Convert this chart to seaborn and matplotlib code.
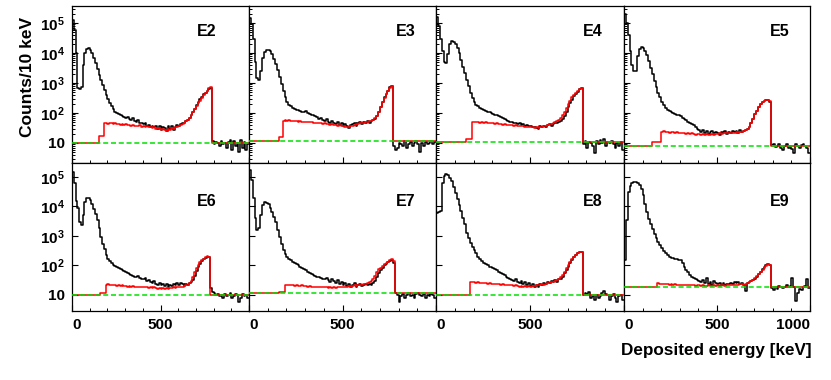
import matplotlib
matplotlib.use("Agg")
import matplotlib.pyplot as plt
from matplotlib.ticker import MultipleLocator, NullFormatter, LogLocator
import numpy as np
import pandas as pd
import seaborn as sns

# 10 keV bins, 0 - 1000 keV
energy_edges = np.arange(0, 1001, 10)
detectors = ["E2", "E3", "E4", "E5", "E6", "E7", "E8", "E9"]

e2_measured = [
    130000, 60000, 10000, 700, 650, 720, 4000, 10000, 14000, 14500,
    12500, 10000, 7000, 4500, 3000, 1900, 1250, 850, 580, 400,
    290, 220, 170, 135, 110, 100, 92, 85, 80, 75,
    70, 72, 64, 60, 66, 55, 52, 58, 48, 45,
    42, 46, 38, 40, 35, 38, 33, 36, 30, 37,
    28, 34, 31, 26, 36, 30, 38, 27, 33, 40,
    36, 42, 45, 48, 55, 60, 70, 85, 110, 140,
    180, 230, 290, 350, 420, 480, 550, 650, 700, 12,
    9, 11, 10, 8, 12, 9, 10, 7, 11, 13,
    6, 12, 8, 10, 5, 13, 7, 11, 6, 9,
]
e2_simulated = [
    10, 10, 10, 10, 10, 10, 10, 10, 10, 10,
    10, 10, 10, 10, 10, 17, 17, 17, 45, 46,
    44, 47, 45, 43, 46, 42, 44, 41, 43, 40,
    42, 39, 40, 38, 41, 37, 38, 36, 39, 35,
    37, 34, 36, 33, 35, 31, 33, 30, 32, 29,
    28, 30, 27, 26, 29, 28, 31, 30, 33, 35,
    38, 40, 44, 48, 53, 60, 70, 85, 105, 135,
    170, 210, 260, 320, 390, 460, 560, 660, 720, 10,
    10, 10, 10, 10, 10, 10, 10, 10, 10, 10,
    10, 10, 10, 10, 10, 10, 10, 10, 10, 10,
]
e3_measured = [
    150000, 90000, 30000, 5000, 1500, 1300, 2500, 7000, 11000, 13000,
    13000, 12000, 9500, 6500, 4200, 2700, 1600, 950, 550, 330,
    230, 190, 165, 150, 140, 130, 125, 118, 112, 108,
    115, 100, 95, 88, 85, 78, 72, 65, 70, 60,
    55, 62, 50, 48, 55, 45, 42, 52, 40, 46,
    38, 44, 36, 32, 40, 42, 48, 38, 45, 52,
    44, 50, 47, 55, 48, 56, 58, 65, 80, 110,
    160, 240, 330, 430, 560, 720, 820, 8, 6, 7,
    10, 9, 8, 12, 7, 9, 11, 8, 10, 12,
    9, 5, 10, 8, 11, 9, 10, 12, 9, 11,
]
e3_simulated = [
    12, 12, 12, 12, 12, 12, 12, 12, 12, 12,
    12, 12, 12, 12, 12, 12, 16, 16, 55, 58,
    56, 57, 54, 56, 53, 55, 52, 54, 51, 52,
    50, 52, 49, 50, 47, 48, 46, 47, 45, 44,
    45, 42, 43, 41, 42, 40, 41, 38, 39, 37,
    36, 35, 34, 35, 37, 38, 40, 42, 43, 45,
    46, 48, 50, 52, 54, 56, 60, 66, 80, 110,
    160, 230, 320, 420, 540, 700, 800, 12, 12, 12,
    12, 12, 12, 12, 12, 12, 12, 12, 12, 12,
    12, 12, 12, 12, 12, 12, 12, 12, 12, 12,
]
e4_measured = [
    160000, 80000, 30000, 12000, 5000, 4500, 9000, 20000, 25000, 24000,
    20000, 15000, 10000, 6000, 3500, 2100, 1300, 800, 480, 320,
    230, 180, 165, 150, 140, 130, 120, 112, 105, 98,
    92, 88, 84, 78, 72, 66, 62, 58, 54, 50,
    52, 46, 48, 43, 45, 40, 42, 38, 41, 36,
    38, 34, 35, 32, 30, 36, 33, 38, 35, 40,
    42, 38, 44, 47, 45, 52, 55, 62, 80, 110,
    160, 210, 280, 360, 440, 520, 620, 680, 9, 12,
    7, 11, 10, 8, 4.6, 12, 9, 13, 10, 14,
    8, 11, 10, 12, 9, 7, 10, 8, 11, 6,
]
e4_simulated = [
    11, 11, 11, 11, 11, 11, 11, 11, 11, 11,
    11, 11, 11, 11, 11, 11, 14, 14, 14, 50,
    52, 50, 51, 48, 50, 47, 49, 46, 47, 45,
    46, 44, 45, 43, 44, 41, 42, 40, 41, 39,
    40, 38, 39, 37, 38, 36, 37, 35, 34, 35,
    33, 34, 32, 33, 31, 33, 35, 36, 38, 40,
    42, 44, 46, 50, 54, 60, 68, 85, 110, 150,
    200, 260, 330, 400, 470, 540, 620, 690, 11, 11,
    11, 11, 11, 11, 11, 11, 11, 11, 11, 11,
    11, 11, 11, 11, 11, 11, 11, 11, 11, 11,
]
e5_measured = [
    200000, 100000, 40000, 12000, 4000, 2500, 2600, 8000, 14000, 16000,
    15000, 12000, 8500, 5500, 3200, 2000, 1200, 750, 460, 330,
    240, 190, 150, 130, 115, 105, 98, 92, 88, 85,
    78, 70, 64, 58, 52, 48, 44, 40, 34, 30,
    27, 24, 28, 22, 25, 20, 23, 26, 21, 24,
    22, 19, 23, 21, 25, 20, 24, 22, 26, 23,
    25, 22, 27, 24, 26, 28, 30, 34, 45, 65,
    90, 120, 160, 200, 230, 250, 265, 275, 240, 8.5,
    9, 7.5, 8, 9, 7, 6, 8, 9, 7, 8,
    6.5, 4.6, 9, 8, 7, 8.5, 9, 8, 7, 4.6,
]
e5_simulated = [
    8, 8, 8, 8, 8, 8, 8, 8, 8, 8,
    8, 8, 8, 8, 8, 11, 11, 11, 11, 11,
    24, 25, 23, 24, 22, 24, 23, 22, 23, 21,
    22, 21, 22, 20, 21, 20, 21, 20, 19, 20,
    20, 19, 20, 19, 20, 19, 19, 20, 19, 20,
    20, 21, 20, 21, 22, 21, 22, 21, 22, 22,
    23, 22, 24, 24, 25, 27, 30, 35, 45, 65,
    90, 120, 160, 200, 230, 250, 265, 280, 260, 8,
    8, 8, 8, 8, 8, 8, 8, 8, 8, 8,
    8, 8, 8, 8, 8, 8, 8, 8, 8, 8,
]
e6_measured = [
    150000, 60000, 15000, 9000, 3000, 2300, 5000, 14000, 20000, 19000,
    16000, 12000, 8500, 5500, 3500, 1800, 900, 550, 350, 220,
    170, 140, 120, 105, 95, 90, 82, 75, 70, 65,
    58, 55, 52, 48, 45, 42, 40, 44, 38, 36,
    34, 38, 30, 32, 28, 26, 29, 24, 22, 25,
    21, 24, 20, 23, 19, 22, 20, 24, 21, 25,
    22, 26, 23, 20, 24, 21, 25, 28, 32, 45,
    65, 90, 115, 140, 165, 185, 200, 190, 17, 13,
    12, 10, 11, 9, 10, 8, 11, 9, 10, 12,
    8, 9, 11, 10, 6, 8, 11, 9, 10, 8,
]
e6_simulated = [
    10, 10, 10, 10, 10, 10, 10, 10, 10, 10,
    10, 10, 10, 10, 10, 10, 12, 12, 12, 22,
    23, 22, 21, 22, 21, 20, 21, 20, 21, 20,
    20, 19, 20, 19, 20, 19, 18, 19, 18, 19,
    18, 19, 18, 17, 18, 17, 18, 17, 16, 17,
    16, 17, 16, 17, 16, 17, 17, 18, 17, 18,
    18, 19, 19, 20, 21, 22, 25, 30, 40, 58,
    80, 105, 130, 150, 170, 190, 205, 195, 10, 10,
    10, 10, 10, 10, 10, 10, 10, 10, 10, 10,
    10, 10, 10, 10, 10, 10, 10, 10, 10, 10,
]
e7_measured = [
    170000, 80000, 20000, 4000, 1600, 1800, 5000, 11000, 14000, 13500,
    12000, 9000, 6500, 4500, 3000, 1600, 900, 520, 330, 250,
    200, 170, 150, 135, 120, 110, 100, 92, 85, 78,
    70, 62, 56, 50, 48, 44, 42, 40, 38, 36,
    34, 38, 32, 28, 35, 30, 26, 32, 24, 28,
    22, 26, 20, 24, 19, 22, 25, 18, 21, 23,
    20, 22, 24, 21, 23, 22, 25, 30, 40, 55,
    70, 85, 100, 115, 130, 140, 150, 125, 12, 10,
    6, 9, 11, 8, 10, 12, 9, 10, 8, 11,
    12, 10, 9, 11, 8, 10, 9, 11, 10, 8,
]
e7_simulated = [
    12, 12, 12, 12, 12, 12, 12, 12, 12, 12,
    12, 12, 12, 12, 12, 12, 13, 13, 13, 22,
    21, 22, 21, 21, 20, 21, 20, 20, 21, 20,
    20, 19, 20, 19, 19, 18, 19, 18, 19, 18,
    18, 18, 17, 18, 17, 18, 17, 18, 18, 19,
    18, 19, 19, 20, 19, 20, 21, 20, 21, 22,
    22, 23, 24, 25, 27, 30, 35, 45, 60, 75,
    85, 95, 108, 120, 135, 150, 160, 145, 12, 12,
    12, 12, 12, 12, 12, 12, 12, 12, 12, 12,
    12, 12, 12, 12, 12, 12, 12, 12, 12, 12,
]
e8_measured = [
    6000, 6500, 7000, 60000, 110000, 125000, 120000, 95000, 70000, 45000,
    28000, 18000, 11000, 7000, 4200, 2500, 1300, 850, 560, 420,
    330, 260, 200, 160, 140, 125, 110, 100, 92, 88,
    80, 75, 68, 62, 56, 52, 46, 42, 38, 34,
    32, 30, 34, 28, 26, 30, 24, 27, 22, 25,
    20, 23, 19, 22, 18, 24, 21, 26, 23, 28,
    26, 30, 27, 32, 28, 34, 36, 42, 55, 70,
    90, 120, 150, 190, 230, 265, 290, 280, 10, 12,
    11, 13, 8, 9, 7, 10, 8, 9, 12, 14,
    11, 10, 7, 9, 11, 8, 6, 9, 10, 7,
]
e8_simulated = [
    10, 10, 10, 10, 10, 10, 10, 10, 10, 10,
    10, 10, 10, 10, 10, 10, 10, 10, 27, 28,
    27, 26, 27, 26, 25, 26, 25, 24, 25, 24,
    24, 23, 24, 23, 22, 23, 22, 21, 22, 21,
    21, 20, 21, 20, 19, 20, 19, 20, 19, 20,
    19, 20, 20, 21, 21, 22, 23, 22, 24, 25,
    26, 27, 28, 30, 32, 35, 40, 48, 62, 80,
    100, 130, 165, 200, 235, 265, 290, 280, 10, 10,
    10, 10, 10, 10, 10, 10, 10, 10, 10, 10,
    10, 10, 10, 10, 10, 10, 10, 10, 10, 10,
]
e9_measured = [
    155, 3500, 30000, 50000, 62000, 68000, 66000, 60000, 52000, 38000,
    25000, 12000, 6500, 3800, 2500, 1700, 1200, 850, 620, 480,
    380, 320, 270, 230, 200, 185, 175, 165, 160, 155,
    150, 120, 90, 70, 58, 48, 42, 38, 34, 32,
    30, 28, 32, 26, 38, 24, 28, 22, 30, 25,
    23, 26, 22, 25, 21, 24, 23, 26, 24, 27,
    25, 28, 24, 26, 22, 14, 25, 28, 30, 32,
    36, 42, 50, 62, 78, 90, 100, 108, 105, 17,
    15, 18, 16, 20, 18, 17, 19, 22, 18, 20,
    38, 19, 6.5, 12, 16, 15, 18, 20, 35, 17,
]
e9_simulated = [
    18, 18, 18, 18, 18, 18, 18, 18, 18, 18,
    18, 18, 18, 18, 18, 18, 18, 18, 25, 24,
    23, 23, 24, 23, 22, 23, 22, 23, 22, 22,
    22, 21, 22, 21, 21, 22, 21, 21, 20, 21,
    21, 20, 21, 20, 20, 21, 20, 20, 21, 20,
    21, 20, 21, 21, 20, 21, 21, 22, 21, 22,
    22, 22, 23, 23, 22, 24, 25, 27, 30, 33,
    37, 43, 50, 60, 72, 85, 98, 110, 105, 18,
    18, 18, 18, 18, 18, 18, 18, 18, 18, 18,
    18, 18, 18, 18, 18, 18, 18, 18, 18, 18,
]
# flat background level (green dashed line) per detector
background = [10, 11.5, 11, 8, 10, 12, 10, 19]

measured = [e2_measured, e3_measured, e4_measured, e5_measured,
            e6_measured, e7_measured, e8_measured, e9_measured]
simulated = [e2_simulated, e3_simulated, e4_simulated, e5_simulated,
             e6_simulated, e7_simulated, e8_simulated, e9_simulated]

centers = energy_edges[:-1] + 5
frames = []
for det, meas, sim in zip(detectors, measured, simulated):
    if len(meas) != len(centers) or len(sim) != len(centers):
        raise ValueError(f"bad length for {det}: {len(meas)} {len(sim)}")
    frames.append(pd.DataFrame({"energy": centers, "counts": meas,
                                "detector": det, "kind": "measured"}))
    frames.append(pd.DataFrame({"energy": centers, "counts": sim,
                                "detector": det, "kind": "simulated"}))
df = pd.concat(frames, ignore_index=True)

sns.set_style("ticks")
plt.rcParams["font.family"] = ["Liberation Sans", "DejaVu Sans"]
plt.rcParams["font.weight"] = "bold"
plt.rcParams["mathtext.fontset"] = "custom"
plt.rcParams["mathtext.rm"] = "Liberation Sans:bold"
plt.rcParams["mathtext.it"] = "Liberation Sans:bold"
plt.rcParams["mathtext.bf"] = "Liberation Sans:bold"
for key in ["text.color", "axes.labelcolor", "xtick.color", "ytick.color",
            "axes.edgecolor"]:
    plt.rcParams[key] = "black"

W, H = 831, 380
col_x = [72, 249, 436, 624, 810]
row_y = [6, 163, 311]
row_ylim = [(2.15, 3.7e5), (2.87, 2.96e5)]
label_dx = [42, 30, 31, 30]
label_dy = [26, 39]
bin_width = 10
bin_range = (energy_edges[0], energy_edges[-1])

fig = plt.figure(figsize=(W / 100, H / 100), dpi=100)

for k, det in enumerate(detectors):
    r, c = divmod(k, 4)
    x0, x1 = col_x[c], col_x[c + 1]
    y0, y1 = row_y[r], row_y[r + 1]
    ax = fig.add_axes([x0 / W, 1 - y1 / H, (x1 - x0) / W, (y1 - y0) / H])
    sub = df[df["detector"] == det]

    sns.histplot(data=sub[sub["kind"] == "measured"], x="energy", weights="counts",
                 binwidth=bin_width, binrange=bin_range, element="step",
                 fill=False, color="black", linewidth=1.1, ax=ax)
    sns.histplot(data=sub[sub["kind"] == "simulated"], x="energy", weights="counts",
                 binwidth=bin_width, binrange=bin_range, element="step",
                 fill=False, color="#ff0000", linewidth=1.1, ax=ax)
    ax.axhline(background[k], color="#00e000", linewidth=1.1,
               linestyle=(0, (3.3, 1.8)), zorder=5)

    ax.set_yscale("log")
    ax.set_xlim(0, 1000)
    ax.set_ylim(*row_ylim[r])
    ax.set_xlabel("")
    ax.set_ylabel("")

    ax.set_yticks([10, 1e2, 1e3, 1e4, 1e5])
    ax.yaxis.set_minor_locator(LogLocator(base=10, subs=np.arange(2, 10)))
    ax.yaxis.set_minor_formatter(NullFormatter())
    if c == 0:
        ax.set_yticklabels(["10", r"$10^{2}$", r"$10^{3}$", r"$10^{4}$", r"$10^{5}$"])
    else:
        ax.set_yticklabels([])

    ax.set_xticks([0, 500, 1000])
    ax.xaxis.set_minor_locator(MultipleLocator(100))
    if r == 1:
        if c == 3:
            ax.set_xticklabels(["0", "500", "1000"])
        else:
            ax.set_xticklabels(["0", "500", ""])
        tl = ax.get_xticklabels()
        tl[0].set_ha("left")
        tl[2].set_ha("right")
    else:
        ax.set_xticklabels([])

    ax.tick_params(which="major", direction="in", length=4, width=0.8,
                   top=False, right=False, labelsize=11, pad=5,
                   colors="black")
    ax.tick_params(which="minor", direction="in", length=2, width=0.7,
                   top=False, right=False, colors="black")
    for s in ax.spines.values():
        s.set_linewidth(0.9)
        s.set_color("black")
        s.set_visible(True)

    ax.text(1 - label_dx[c] / (x1 - x0), 1 - label_dy[r] / (y1 - y0), det,
            transform=ax.transAxes, ha="center", va="center",
            fontsize=11.5, fontweight="bold", color="black")

fig.text(28 / W, 1 - 77 / H, "Counts/10 keV", rotation=90, ha="center",
         va="center", fontsize=12.5, fontweight="bold", color="black")
fig.text(812 / W, 1 - 351 / H, "Deposited energy [keV]", ha="right",
         va="center", fontsize=12.3, fontweight="bold", color="black")

fig.savefig("out.png", dpi=100)
